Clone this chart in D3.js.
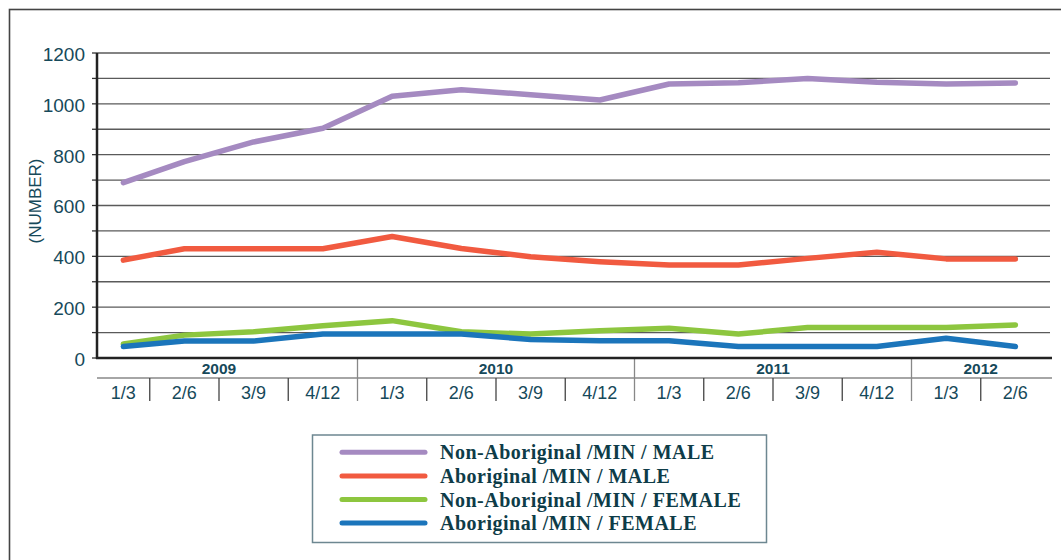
<!DOCTYPE html>
<html><head><meta charset="utf-8">
<script src="https://cdn.jsdelivr.net/npm/d3@7"></script>
<style>
html,body{margin:0;padding:0;background:#fff;}
svg{display:block;}
</style></head>
<body>
<svg id="chart" width="1061" height="560"></svg>
<script>
const years = ["2009","2009","2009","2009","2010","2010","2010","2010","2011","2011","2011","2011","2012","2012"];
const quarters = ["1/3","2/6","3/9","4/12","1/3","2/6","3/9","4/12","1/3","2/6","3/9","4/12","1/3","2/6"];
const nonAborMale   = [690, 773, 850, 904, 1030, 1055, 1036, 1015, 1078, 1083, 1100, 1085, 1078, 1082];
const aborMale      = [385, 430, 430, 430, 478, 431, 398, 379, 366, 366, 392, 416, 390, 390];
const nonAborFemale = [55, 90, 103, 127, 147, 103, 94, 107, 117, 94, 120, 120, 120, 130];
const aborFemale    = [45, 67, 67, 94, 94, 94, 73, 68, 68, 45, 45, 45, 78, 45];
const seriesNames = ["Non-Aboriginal /MIN / MALE","Aboriginal /MIN / MALE","Non-Aboriginal /MIN / FEMALE","Aboriginal /MIN / FEMALE"];
const seriesColors = ["#a58ac1","#f15a40","#8dc63f","#1b75bb"];
const yTickLabels = [0,200,400,600,800,1000,1200];
const yGridValues = [100,200,300,400,500,600,700,800,900,1000,1100,1200];

const series = [nonAborMale, aborMale, nonAborFemale, aborFemale];
const svg = d3.select("#chart");
const textCol = "#16495a";

// frame
svg.append("rect").attr("x",9.5).attr("y",9.5).attr("width",1100).attr("height",600)
  .attr("fill","none").attr("stroke","#444").attr("stroke-width",1.6);

const plotL = 97, plotR = 1050, plotT = 53, plotB = 358;
const idx = d3.range(quarters.length);
const xBand = d3.scaleBand().domain(idx).range([plotR - 14*69.25, plotR]);
const bw = xBand.bandwidth();
const xc = i => (Math.max(xBand(i), plotL) + xBand(i) + bw) / 2;
const y = d3.scaleLinear().domain([0,1200]).range([plotB, plotT]);

// gridlines
svg.append("g").selectAll("line").data(yGridValues).join("line")
  .attr("x1",plotL).attr("x2",plotR).attr("y1",d=>y(d)).attr("y2",d=>y(d))
  .attr("stroke","#5a5a5a").attr("stroke-width",1.3);

// left ticks
svg.append("g").selectAll("line").data([0].concat(yGridValues)).join("line")
  .attr("x1",plotL-5).attr("x2",plotL).attr("y1",d=>y(d)).attr("y2",d=>y(d))
  .attr("stroke","#333").attr("stroke-width",1.3);

// y labels
svg.append("g").selectAll("text").data(yTickLabels).join("text")
  .attr("x",85).attr("y",d=>y(d)).attr("dy","0.42em").attr("text-anchor","end")
  .attr("font-family","Liberation Sans, Arial, sans-serif").attr("font-size",19)
  .attr("fill",textCol).text(d=>d);

svg.append("text").attr("transform","translate(41,201) rotate(-90)")
  .attr("text-anchor","middle").attr("font-family","Liberation Sans, Arial, sans-serif")
  .attr("font-size",17).attr("fill",textCol).text("(NUMBER)");

// x axis rows
svg.append("line").attr("x1",plotL).attr("x2",plotR+2).attr("y1",378).attr("y2",378)
  .attr("stroke","#888").attr("stroke-width",1.3);
// quarter separators
svg.append("g").selectAll("line").data(idx.slice(1)).join("line")
  .attr("x1",i=>xBand(i)).attr("x2",i=>xBand(i))
  .attr("y1",i=>(years[i]!==years[i-1])?plotB:378).attr("y2",401)
  .attr("stroke",i=>(years[i]!==years[i-1])?"#888":"#444").attr("stroke-width",1.3);
// quarter labels
svg.append("g").selectAll("text").data(idx).join("text")
  .attr("x",i=>xc(i)).attr("y",399).attr("text-anchor","middle")
  .attr("font-family","Liberation Sans, Arial, sans-serif").attr("font-size",18)
  .attr("fill",textCol).text(i=>quarters[i]);
// year labels
const yearGroups = d3.groups(idx, i=>years[i]);
svg.append("g").selectAll("text").data(yearGroups).join("text")
  .attr("x",g=>(xBand(g[1][0]) + xBand(g[1][g[1].length-1]) + bw)/2)
  .attr("y",374).attr("text-anchor","middle")
  .attr("font-family","Liberation Sans, Arial, sans-serif").attr("font-size",15.5).attr("font-weight","bold")
  .attr("fill",textCol).text(g=>g[0]);

// lines
const line = d3.line().x((d,i)=>xc(i)).y(d=>y(d));
svg.append("g").selectAll("path").data(series).join("path")
  .attr("d",line).attr("fill","none").attr("stroke",(d,i)=>seriesColors[i])
  .attr("stroke-width",5.5).attr("stroke-linecap","round").attr("stroke-linejoin","round");

// axes
svg.append("line").attr("x1",plotL).attr("x2",plotL).attr("y1",plotT).attr("y2",plotB+1)
  .attr("stroke","#222").attr("stroke-width",2.5);
svg.append("line").attr("x1",plotL-1).attr("x2",plotR+2).attr("y1",plotB).attr("y2",plotB)
  .attr("stroke","#222").attr("stroke-width",2.5);

// legend
svg.append("rect").attr("x",312.5).attr("y",435).attr("width",454).attr("height",107.5)
  .attr("fill","none").attr("stroke","#6d8791").attr("stroke-width",1.5);
const lg = svg.append("g").selectAll("g").data(seriesNames).join("g")
  .attr("transform",(d,i)=>`translate(0,${452.3 + i*23.6})`);
lg.append("line").attr("x1",342).attr("x2",425).attr("y1",0).attr("y2",0)
  .attr("stroke",(d,i)=>seriesColors[i]).attr("stroke-width",5).attr("stroke-linecap","round");
lg.append("text").attr("x",440).attr("y",0).attr("dy","0.35em")
  .attr("font-family","Liberation Serif, Times New Roman, serif").attr("font-weight","bold")
  .attr("font-size",20).attr("letter-spacing",0.5).attr("fill","#0e3c48").text(d=>d);
</script>
</body></html>
